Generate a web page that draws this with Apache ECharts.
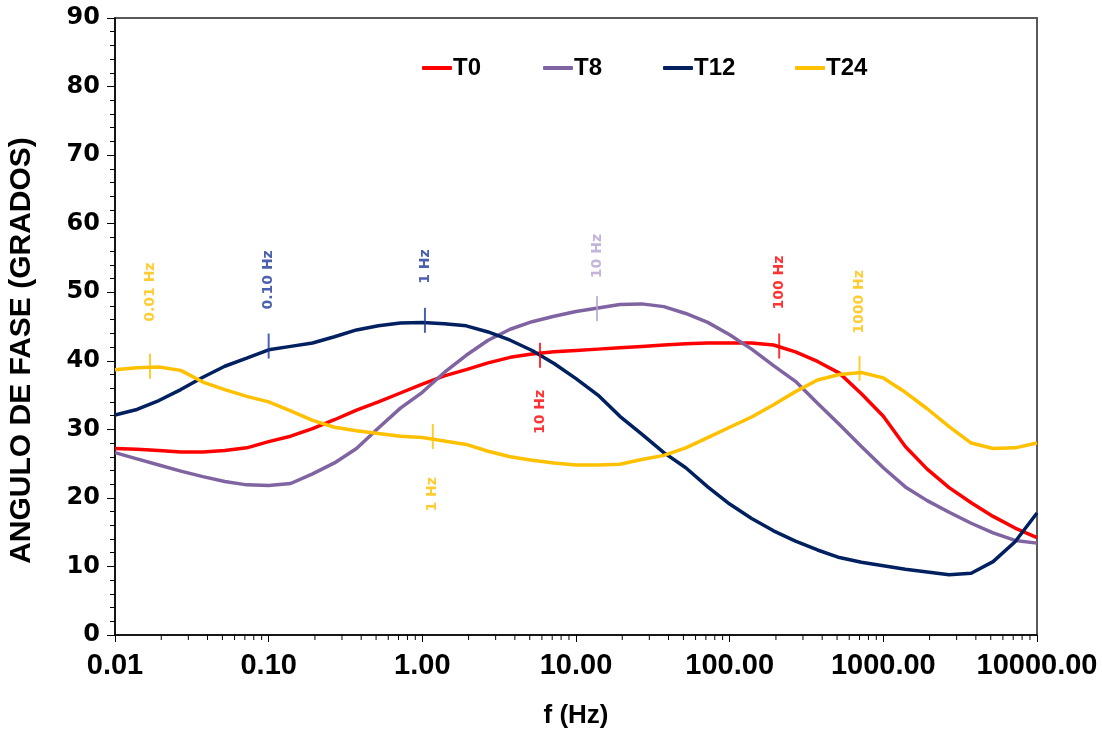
<!DOCTYPE html>
<html>
<head>
<meta charset="utf-8">
<script src="https://cdn.jsdelivr.net/npm/echarts@6/dist/echarts.min.js"></script>
<style>
  html, body { margin: 0; padding: 0; background: #fff; }
  #chart { width: 1102px; height: 737px; }
</style>
</head>
<body>
<div id="chart"></div>
<script>
// Frequencies (Hz), 7 points per decade
const freq = [
  0.01, 0.0139, 0.0193, 0.0268, 0.0373, 0.0518, 0.0720,
  0.1, 0.139, 0.193, 0.268, 0.373, 0.518, 0.720,
  1, 1.39, 1.93, 2.68, 3.73, 5.18, 7.20,
  10, 13.9, 19.3, 26.8, 37.3, 51.8, 72.0,
  100, 139, 193, 268, 373, 518, 720,
  1000, 1390, 1930, 2680, 3730, 5180, 7200,
  10000
];

// Phase angle (degrees) for each series
const t0 = [
  27.2, 27.1, 26.9, 26.7, 26.7, 26.9, 27.3,
  28.2, 29.0, 30.1, 31.4, 32.8, 34.0, 35.3,
  36.6, 37.8, 38.7, 39.7, 40.5, 41.0, 41.3,
  41.5, 41.7, 41.9, 42.1, 42.3, 42.5, 42.6,
  42.6, 42.6, 42.3, 41.3, 39.9, 38.2, 35.2,
  31.9, 27.5, 24.2, 21.5, 19.3, 17.3, 15.6,
  14.2
];
const t8 = [
  26.6, 25.7, 24.8, 23.9, 23.1, 22.4, 21.9,
  21.8, 22.1, 23.5, 25.1, 27.2, 30.2, 33.1,
  35.4, 38.3, 40.8, 43.0, 44.6, 45.7, 46.5,
  47.2, 47.7, 48.2, 48.3, 47.9, 46.9, 45.6,
  43.8, 41.7, 39.3, 37.0, 33.8, 30.7, 27.5,
  24.4, 21.6, 19.6, 17.9, 16.3, 14.9, 13.8,
  13.4
];
const t12 = [
  32.1, 32.9, 34.2, 35.8, 37.6, 39.2, 40.4,
  41.6, 42.1, 42.6, 43.5, 44.5, 45.1, 45.5,
  45.6, 45.4, 45.1, 44.2, 43.0, 41.5, 39.6,
  37.4, 35.0, 31.9, 29.3, 26.6, 24.4, 21.6,
  19.1, 17.0, 15.2, 13.7, 12.4, 11.3, 10.6,
  10.1, 9.6, 9.2, 8.8, 9.0, 10.7, 13.6,
  17.8
];
const t24 = [
  38.7, 39.0, 39.1, 38.6, 36.9, 35.8, 34.8,
  34.0, 32.7, 31.3, 30.3, 29.8, 29.4, 29.0,
  28.8, 28.3, 27.8, 26.8, 26.0, 25.5, 25.1,
  24.8, 24.8, 24.9, 25.6, 26.2, 27.3, 28.8,
  30.3, 31.8, 33.6, 35.5, 37.2, 38.0, 38.3,
  37.5, 35.4, 33.0, 30.4, 28.0, 27.2, 27.3,
  28.0
];

const seriesNames = ['T0', 'T8', 'T12', 'T24'];
const seriesColors = ['#FF0000', '#8064A2', '#002060', '#FFC000'];
const seriesValues = [t0, t8, t12, t24];

// Frequency marks on the curves: [frequency, angle, text, colour, side]
const markFreq  = [0.0169, 0.1, 1.04, 13.7, 5.83, 210, 700, 1.17];
const markAngle = [39.2, 42.15, 45.9, 47.6, 40.8, 42.15, 38.9, 28.95];
const markText  = ['0.01 Hz', '0.10 Hz', '1 Hz', '10 Hz', '10 Hz', '100 Hz', '1000 Hz', '1 Hz'];
const markColor = ['#FFC000', '#1F3A9A', '#1F3A9A', '#B4A3CF', '#FF0000', '#FF0000', '#FFC000', '#FFC000'];
const markSide  = ['top', 'top', 'top', 'top', 'bottom', 'top', 'top', 'bottom'];
const markGap   = [32, 24, 24, 18, 22, 24, 22, 28];

// Log-axis minor tick positions (2..9 in each decade)
const minorTickFreq = [];
[0.01, 0.1, 1, 10, 100, 1000].forEach(function (d) {
  for (let k = 2; k <= 9; k++) minorTickFreq.push([+(d * k).toPrecision(3), 0]);
});

const sans = "'Liberation Sans', Arial, sans-serif";

const chart = echarts.init(document.getElementById('chart'), null, { renderer: 'canvas' });

const lineSeries = seriesNames.map(function (name, i) {
  return {
    name: name,
    type: 'line',
    data: freq.map(function (f, j) { return [f, seriesValues[i][j]]; }),
    showSymbol: false,
    smooth: false,
    lineStyle: { color: seriesColors[i], width: 3.5 },
    itemStyle: { color: seriesColors[i] },
    z: 3
  };
});

const markSeries = {
  name: 'marcas',
  type: 'scatter',
  symbol: 'rect',
  symbolSize: [2, 25],
  silent: true,
  z: 5,
  data: markFreq.map(function (f, i) {
    const top = markSide[i] === 'top';
    return {
      value: [f, markAngle[i]],
      itemStyle: { color: markColor[i] },
      label: {
        show: true,
        formatter: markText[i],
        position: markSide[i],
        distance: markGap[i],
        rotate: 90,
        align: top ? 'left' : 'right',
        verticalAlign: 'middle',
        color: markColor[i],
        fontFamily: "'DejaVu Sans', sans-serif",
        fontWeight: 'bold',
        fontSize: 14
      }
    };
  })
};

const minorTickSeries = {
  name: 'minorTicks',
  type: 'custom',
  silent: true,
  clip: false,
  z: 6,
  data: minorTickFreq,
  renderItem: function (params, api) {
    const p = api.coord([api.value(0), 0]);
    return {
      type: 'line',
      shape: { x1: p[0], y1: p[1], x2: p[0], y2: p[1] + 5 },
      style: { stroke: '#000', lineWidth: 1 }
    };
  }
};

const legendLeft = [422, 543, 663, 795];
const legends = seriesNames.map(function (name, i) {
  return {
    data: [name],
    left: legendLeft[i],
    top: 56,
    icon: 'roundRect',
    itemWidth: 30,
    itemHeight: 4,
    itemGap: 0,
    padding: 0,
    textStyle: {
      color: '#000',
      fontFamily: sans,
      fontWeight: 'bold',
      fontSize: 24,
      padding: [0, 0, 0, -4]
    },
    selectedMode: false
  };
});

chart.setOption({
  animation: false,
  backgroundColor: '#fff',
  legend: legends,
  grid: {
    left: 115, right: 65, top: 18, bottom: 102,
    outerBoundsMode: 'none',
    containLabel: false,
    show: true,
    borderColor: '#595959',
    borderWidth: 2,
    backgroundColor: 'transparent'
  },
  xAxis: {
    type: 'log',
    logBase: 10,
    min: 0.01,
    max: 10000,
    name: 'f (Hz)',
    nameLocation: 'middle',
    nameGap: 68,
    nameTextStyle: { color: '#000', fontFamily: sans, fontWeight: 'bold', fontSize: 26 },
    axisLine: { lineStyle: { color: '#000', width: 1.5 } },
    axisTick: { show: true, length: 7, lineStyle: { color: '#000' } },
    minorTick: { show: false },
    splitLine: { show: false },
    axisLabel: {
      color: '#000',
      fontFamily: sans,
      fontWeight: 'bold',
      fontSize: 29,
      margin: 16,
      formatter: function (v) { return (+v).toFixed(2); }
    }
  },
  yAxis: {
    type: 'value',
    min: 0,
    max: 90,
    interval: 10,
    name: 'ANGULO DE FASE (GRADOS)',
    nameLocation: 'middle',
    nameGap: 78,
    nameRotate: 90,
    nameTextStyle: {
      color: '#000', fontFamily: sans, fontWeight: 'bold', fontSize: 30,
      padding: [0, 48, 0, 0]
    },
    axisLine: { show: true, lineStyle: { color: '#000', width: 1.5 } },
    axisTick: { show: true, length: 8, lineStyle: { color: '#000' } },
    minorTick: { show: true, splitNumber: 5, length: 5, lineStyle: { color: '#000' } },
    splitLine: { show: false },
    axisLabel: {
      color: '#000',
      fontFamily: "'DejaVu Sans', sans-serif",
      fontWeight: 'bold',
      fontSize: 24,
      margin: 15
    }
  },
  series: lineSeries.concat([markSeries, minorTickSeries])
});
</script>
</body>
</html>
